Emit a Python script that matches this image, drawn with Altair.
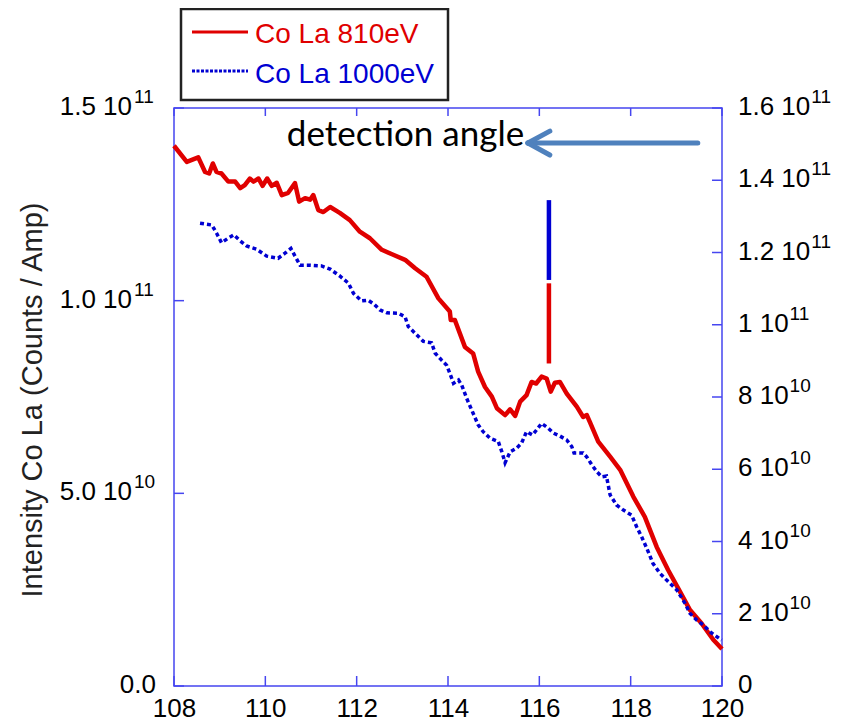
import altair as alt
import pandas as pd

# ---------------- data (intensity in units of 1e10) ----------------
red_x = [108.00, 108.28, 108.53, 108.68, 108.77, 108.85, 108.93, 109.04, 109.19, 109.34,
         109.45, 109.55, 109.66, 109.74, 109.85, 109.94, 110.04, 110.14, 110.25, 110.36,
         110.50, 110.65, 110.74, 110.87, 110.98, 111.05, 111.16, 111.27, 111.42, 111.63,
         111.85, 112.07, 112.29, 112.55, 112.80, 113.06, 113.28, 113.53, 113.79, 114.04,
         114.06, 114.15, 114.37, 114.55, 114.66, 114.81, 114.96, 115.07, 115.25, 115.36,
         115.47, 115.58, 115.72, 115.83, 115.93, 116.05, 116.16, 116.25, 116.34, 116.45,
         116.60, 116.82, 116.96, 117.04, 117.11, 117.29, 117.55, 117.77, 118.06, 118.31,
         118.57, 118.82, 119.08, 119.30, 119.55, 119.81, 120.00]
red_y = [14.02, 13.60, 13.72, 13.34, 13.30, 13.56, 13.34, 13.30, 13.09, 13.09,
         12.92, 13.00, 13.17, 13.09, 13.17, 12.98, 13.17, 12.98, 13.06, 12.74,
         12.80, 13.05, 12.57, 12.66, 12.62, 12.74, 12.35, 12.30, 12.43, 12.28,
         12.09, 11.79, 11.62, 11.32, 11.19, 11.06, 10.84, 10.62, 10.06, 9.72,
         9.50, 9.50, 8.80, 8.63, 8.16, 7.76, 7.51, 7.21, 7.03, 7.18,
         7.01, 7.38, 7.55, 7.89, 7.85, 8.03, 7.98, 7.64, 7.87, 7.89,
         7.59, 7.25, 6.98, 7.03, 6.84, 6.34, 5.95, 5.61, 4.91, 4.39,
         3.61, 3.01, 2.45, 1.97, 1.63, 1.20, 0.96]

blue_x = [108.57, 108.83, 108.93, 109.04, 109.19, 109.31, 109.45, 109.59, 109.81, 110.03,
          110.28, 110.43, 110.56, 110.65, 110.76, 110.98, 111.23, 111.42, 111.63, 111.82,
          111.93, 112.11, 112.25, 112.38, 112.51, 112.66, 112.91, 113.06, 113.13, 113.46,
          113.64, 113.72, 113.86, 113.97, 114.04, 114.12, 114.23, 114.30, 114.41, 114.55,
          114.66, 114.77, 114.92, 115.10, 115.18, 115.25, 115.36, 115.50, 115.61, 115.72,
          115.85, 115.94, 116.05, 116.20, 116.31, 116.45, 116.60, 116.71, 116.76, 116.96,
          117.04, 117.15, 117.26, 117.37, 117.47, 117.55, 117.69, 117.84, 118.02, 118.13,
          118.24, 118.35, 118.49, 118.64, 118.82, 119.01, 119.19, 119.30, 119.45, 119.59,
          119.74, 119.99]
blue_y = [12.81, 12.76, 12.54, 12.27, 12.40, 12.49, 12.32, 12.18, 12.09, 11.90,
          11.84, 11.98, 12.11, 11.90, 11.65, 11.65, 11.63, 11.54, 11.35, 11.15,
          10.87, 10.66, 10.68, 10.57, 10.41, 10.33, 10.32, 10.22, 9.95, 9.54,
          9.50, 9.21, 9.02, 8.88, 8.66, 8.38, 8.47, 8.33, 7.96, 7.55,
          7.23, 7.04, 6.86, 6.77, 6.48, 6.18, 6.48, 6.58, 6.72, 7.04,
          6.95, 7.09, 7.27, 7.13, 7.00, 6.92, 6.81, 6.63, 6.45, 6.45,
          6.34, 6.12, 5.93, 5.79, 5.81, 5.29, 5.01, 4.87, 4.73, 4.41,
          4.13, 3.82, 3.39, 3.12, 2.89, 2.66, 2.29, 2.01, 1.82, 1.69,
          1.50, 1.27]

x_ticks = [108, 110, 112, 114, 116, 118, 120]
left_vals = [0, 5, 10, 15]
left_base = ["0.0", "5.0 10", "1.0 10", "1.5 10"]
left_exp = ["", "10", "11", "11"]
right_vals = [0, 2, 4, 6, 8, 10, 12, 14, 16]
right_base = ["0", "2 10", "4 10", "6 10", "8 10", "1 10", "1.2 10", "1.4 10", "1.6 10"]
right_exp = ["", "10", "10", "10", "10", "11", "11", "11", "11"]

legend_labels = ["Co La 810eV", "Co La 1000eV"]
y_title = "Intensity Co La (Counts / Amp)"
annotation = "detection angle"
annot_x, annot_y = 110.47, 14.01
marker_x = 116.21
marker_red = [8.37, 10.45]
marker_blue = [11.24, 13.45]
arrow_tip_x, arrow_end_x, arrow_y = 115.75, 119.47, 14.09
arrow_wing_x = 116.23
arrow_wing_y = [14.40, 13.78]

# ---------------- styles ----------------
W, H = 548, 578
RED = "#e00000"
BLUE = "#0000d2"
AXIS = "#4646f0"
ARROW = "#4f81bd"
FONT = "Liberation Sans"
LFS = 26   # tick label size
SFS = 19   # superscript size


def tw(s, fs):
    return sum(0.278 if c in ". " else 0.556 for c in s) * fs


xscale = alt.Scale(domain=[108, 120], nice=False, zero=False)
xaxis = alt.Axis(values=x_ticks, title=None, ticks=False, tickSize=0, domain=False, grid=False,
                 labelFont=FONT, labelFontSize=LFS, labelColor="black", labelPadding=9,
                 format="d", labelFlush=False, labelOverlap=False)


def X(f):
    return alt.X(f, type="quantitative", scale=xscale, axis=xaxis)


def YR(f):
    return alt.Y(f, type="quantitative", scale=alt.Scale(domain=[0, 15], nice=False, zero=True), axis=None)


def YB(f):
    return alt.Y(f, type="quantitative", scale=alt.Scale(domain=[0, 16], nice=False, zero=True), axis=None)


red_df = pd.DataFrame({"x": red_x, "v": red_y})
blue_df = pd.DataFrame({"x": blue_x, "v": blue_y})
left_df = pd.DataFrame({"v": left_vals, "base": left_base, "exp": left_exp})
right_df = pd.DataFrame({"v": right_vals, "base": right_base, "exp": right_exp})
xt_df = pd.DataFrame({"x": x_ticks})
one = pd.DataFrame({"k": [0]})

# ---- red (left scale) group ----
red_line = alt.Chart(red_df).mark_line(color=RED, strokeWidth=4.5, strokeJoin="round").encode(
    x=X("x"), y=YR("v"))
red_mark = alt.Chart(pd.DataFrame({"x": [marker_x], "v": [marker_red[0]], "v2": [marker_red[1]]})).mark_rule(
    color=RED, strokeWidth=4.5).encode(x=X("x"), y=YR("v"), y2="v2")
arrow_shaft = alt.Chart(pd.DataFrame({"x": [arrow_tip_x], "x2": [arrow_end_x], "v": [arrow_y]})).mark_rule(
    color=ARROW, strokeWidth=5, strokeCap="round").encode(x=X("x"), x2="x2", y=YR("v"))
arrow_head = alt.Chart(pd.DataFrame({"x": [arrow_tip_x, arrow_tip_x], "x2": [arrow_wing_x, arrow_wing_x],
                                     "v": [arrow_y, arrow_y], "v2": arrow_wing_y})).mark_rule(
    color=ARROW, strokeWidth=5, strokeCap="round").encode(x=X("x"), x2="x2", y=YR("v"), y2="v2")
annot_txt = alt.Chart(pd.DataFrame({"x": [annot_x], "v": [annot_y], "t": [annotation]})).mark_text(
    font="Lato", fontSize=35, align="left", baseline="alphabetic", color="black").encode(
    x=X("x"), y=YR("v"), text="t:N")

left_base_l = alt.Chart(left_df).transform_filter("datum.exp != ''").mark_text(
    font=FONT, fontSize=LFS, align="right", baseline="middle", dy=-1, color="black").encode(
    x=alt.value(-42), y=YR("v"), text="base:N")
left_exp_l = alt.Chart(left_df).transform_filter("datum.exp != ''").mark_text(
    font=FONT, fontSize=SFS, align="left", baseline="middle", dy=-11, color="black").encode(
    x=alt.value(-40), y=YR("v"), text="exp:N")
left_plain = alt.Chart(left_df).transform_filter("datum.exp == ''").mark_text(
    font=FONT, fontSize=LFS, align="right", baseline="middle", dy=-1, color="black").encode(
    x=alt.value(-18), y=YR("v"), text="base:N")
left_ticks = alt.Chart(left_df).mark_rule(color=AXIS, strokeWidth=1.5).encode(
    y=YR("v"), x=alt.value(0), x2=alt.value(10))
bottom_ticks = alt.Chart(xt_df).mark_rule(color=AXIS, strokeWidth=1.5).encode(
    x=X("x"), y=alt.value(H - 10), y2=alt.value(H))
top_ticks = alt.Chart(xt_df).mark_rule(color=AXIS, strokeWidth=1.5).encode(
    x=X("x"), y=alt.value(0), y2=alt.value(8))
title_l = alt.Chart(pd.DataFrame({"t": [y_title]})).mark_text(
    font=FONT, fontSize=29, angle=270, align="center", baseline="alphabetic", color="#222222").encode(
    x=alt.value(-132), y=alt.value(H / 2 + 3), text="t:N")

# legend
leg_box = alt.Chart(one).mark_rect(fill="white", stroke="#222222", strokeWidth=2.5).encode(
    x=alt.value(7), x2=alt.value(274), y=alt.value(-99), y2=alt.value(-8))
leg_red_line = alt.Chart(one).mark_rule(color=RED, strokeWidth=3).encode(
    x=alt.value(18), x2=alt.value(74), y=alt.value(-76))
leg_blue_line = alt.Chart(one).mark_rule(color=BLUE, strokeWidth=3, strokeDash=[3, 1.5]).encode(
    x=alt.value(18), x2=alt.value(74), y=alt.value(-37))
leg_red_txt = alt.Chart(pd.DataFrame({"t": [legend_labels[0]]})).mark_text(
    font=FONT, fontSize=28, align="left", baseline="alphabetic", color=RED).encode(
    x=alt.value(81), y=alt.value(-65), text="t:N")
leg_blue_txt = alt.Chart(pd.DataFrame({"t": [legend_labels[1]]})).mark_text(
    font=FONT, fontSize=28, align="left", baseline="alphabetic", color=BLUE).encode(
    x=alt.value(81), y=alt.value(-25), text="t:N")

red_group = alt.layer(red_line, red_mark, arrow_shaft, arrow_head, annot_txt,
                      left_base_l, left_exp_l, left_plain, left_ticks, bottom_ticks, top_ticks,
                      title_l, leg_box, leg_red_line, leg_blue_line, leg_red_txt, leg_blue_txt)

# ---- blue (right scale) group ----
blue_line = alt.Chart(blue_df).mark_line(color=BLUE, strokeWidth=3.5, strokeDash=[4, 3]).encode(
    x=X("x"), y=YB("v"))
blue_mark = alt.Chart(pd.DataFrame({"x": [marker_x], "v": [marker_blue[0]], "v2": [marker_blue[1]]})).mark_rule(
    color=BLUE, strokeWidth=4.5).encode(x=X("x"), y=YB("v"), y2="v2")
rbase_x = W + 16
right_base_l = alt.Chart(right_df).mark_text(
    font=FONT, fontSize=LFS, align="left", baseline="middle", dy=-1, color="black").encode(
    x=alt.value(rbase_x), y=YB("v"), text="base:N")
right_exp_short = alt.Chart(right_df).transform_filter("datum.exp != '' && length(datum.base) == 4").mark_text(
    font=FONT, fontSize=SFS, align="left", baseline="middle", dy=-11, color="black").encode(
    x=alt.value(rbase_x + tw("2 10", LFS) + 1), y=YB("v"), text="exp:N")
right_exp_long = alt.Chart(right_df).transform_filter("datum.exp != '' && length(datum.base) == 6").mark_text(
    font=FONT, fontSize=SFS, align="left", baseline="middle", dy=-11, color="black").encode(
    x=alt.value(rbase_x + tw("1.2 10", LFS) + 1), y=YB("v"), text="exp:N")
right_ticks = alt.Chart(right_df).mark_rule(color=AXIS, strokeWidth=1.5).encode(
    y=YB("v"), x=alt.value(W - 10), x2=alt.value(W))

blue_group = alt.layer(blue_line, blue_mark, right_base_l, right_exp_short, right_exp_long, right_ticks)

chart = alt.layer(red_group, blue_group).resolve_scale(y="independent").properties(
    width=W, height=H,
    autosize=alt.AutoSizeParams(type="none"),
    padding={"left": 166, "top": 100, "right": 112, "bottom": 36},
).configure_view(stroke=AXIS, strokeWidth=1.5)

chart.save("out.html", embed_options={"renderer": "svg", "actions": False})
